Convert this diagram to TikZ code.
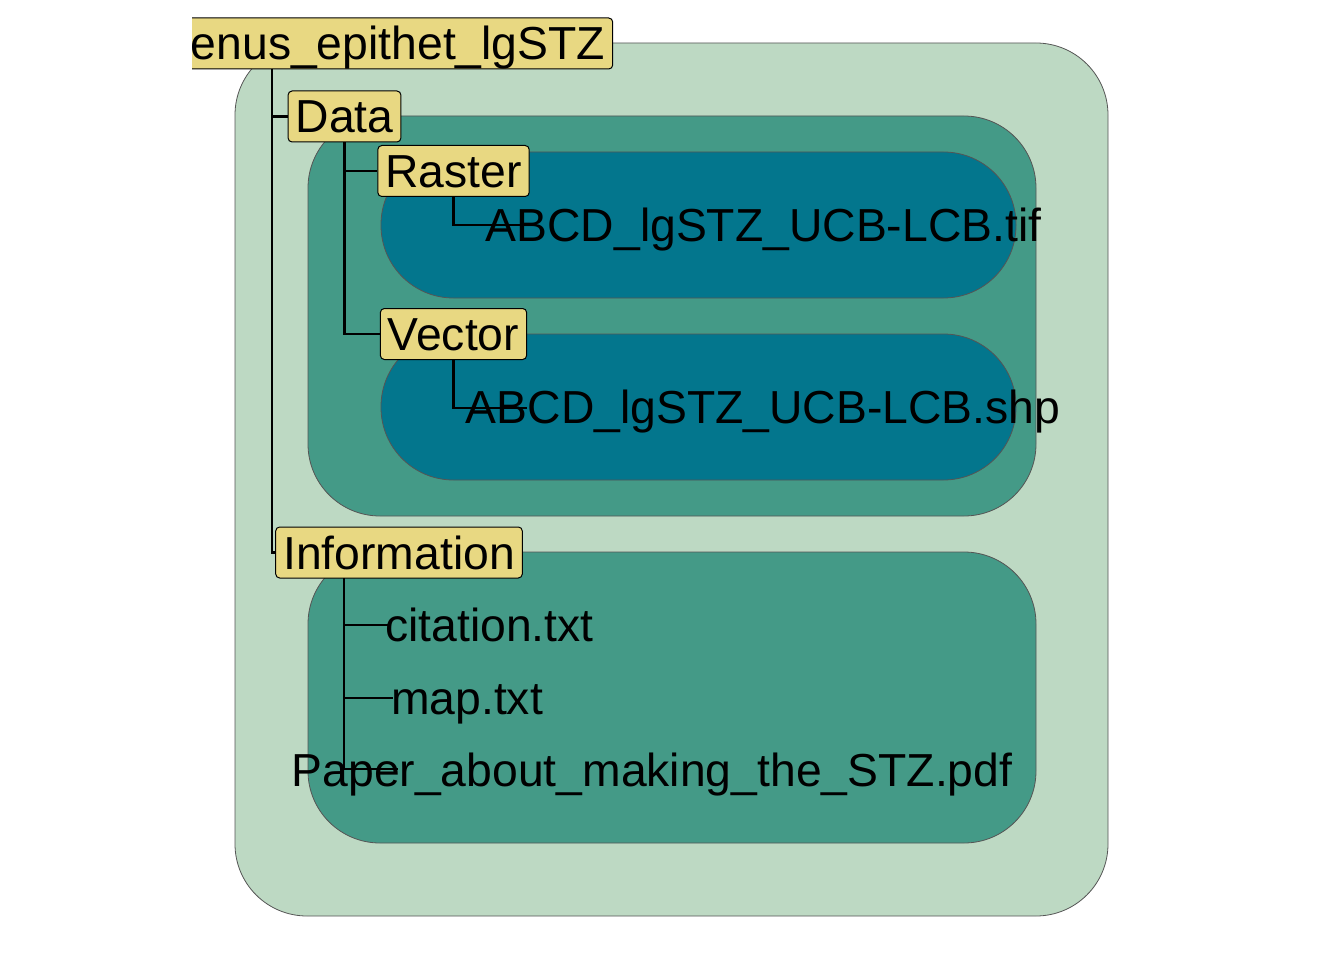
\documentclass[tikz,border=0pt]{standalone}
\usepackage{fontspec}
\setmainfont{Liberation Sans}
\definecolor{outerg}{HTML}{BDD9C3}
\definecolor{midg}{HTML}{449A87}
\definecolor{darkt}{HTML}{03768D}
\definecolor{lblf}{HTML}{E8D882}
\definecolor{edgeg}{HTML}{555555}
\tikzset{
  region/.style={draw=edgeg, line width=0.8pt},
  lbl/.style={draw=black, line width=1pt, fill=lblf, rounded corners=4pt,
    inner xsep=7.5pt, inner ysep=0pt, minimum height=51pt,
    text height=33pt, text depth=0pt,
    font=\fontsize{46.3}{50}\selectfont},
  leaf/.style={inner sep=0pt, text height=33pt, text depth=0pt,
    font=\fontsize{46.3}{50}\selectfont},
  branch/.style={draw=black, line width=2.2pt}
}
\begin{document}
\begin{tikzpicture}[x=1pt,y=-1pt]
\useasboundingbox (0,0) rectangle (1344,960);
% regions
\draw[region, fill=outerg, rounded corners=72pt] (235,43) rectangle (1108,916);
\draw[region, fill=midg, rounded corners=72pt] (308,116) rectangle (1036,516);
\draw[region, fill=darkt, rounded corners=72.5pt] (381,152) rectangle (1016,298);
\draw[region, fill=darkt, rounded corners=72.5pt] (381,334) rectangle (1016,480);
\draw[region, fill=midg, rounded corners=72pt] (308,552) rectangle (1036,843);
% leaf labels
\node[leaf] (tif) at (763.5,225) {ABCD\_lgSTZ\_UCB-LCB.tif};
\node[leaf] (shp) at (763,407) {ABCD\_lgSTZ\_UCB-LCB.shp};
\node[leaf] (cit) at (489.5,625) {citation.txt};
\node[leaf] (map) at (467,698) {map.txt};
\node[leaf] (paper) at (652,770) {Paper\_about\_making\_the\_STZ.pdf};
% label boxes
\node[lbl] (data) at (344.5,116.5) {Data};
\node[lbl] (raster) at (453.5,171) {Raster};
\node[lbl] (vector) at (453.5,334) {Vector};
\node[lbl] (info) at (399,552.5) {Information};
\begin{scope}
\clip (192,0) rectangle (1344,960);
\node[lbl] (root) at (380,43.5) {\hphantom{G}enus\_epithet\_lgSTZ};
\end{scope}
% branch anchor points
\coordinate (rootTrunk) at (272,69);
\coordinate (infoTrunk) at (344,578);
\coordinate (tifEnd) at (520,225);
\coordinate (shpEnd) at (527,408);
\coordinate (citEnd) at (390,625);
\coordinate (mapEnd) at (393,698);
\coordinate (paperEnd) at (398,769);
% branches
\draw[branch] (rootTrunk) |- (data.west);
\draw[branch] (rootTrunk) |- (info.west);
\draw[branch] (data.south) |- (raster.west);
\draw[branch] (data.south) |- (vector.west);
\draw[branch] (raster.south) |- (tifEnd);
\draw[branch] (vector.south) |- (shpEnd);
\draw[branch] (infoTrunk) |- (citEnd);
\draw[branch] (infoTrunk) |- (mapEnd);
\draw[branch] (infoTrunk) |- (paperEnd);
\end{tikzpicture}
\end{document}
